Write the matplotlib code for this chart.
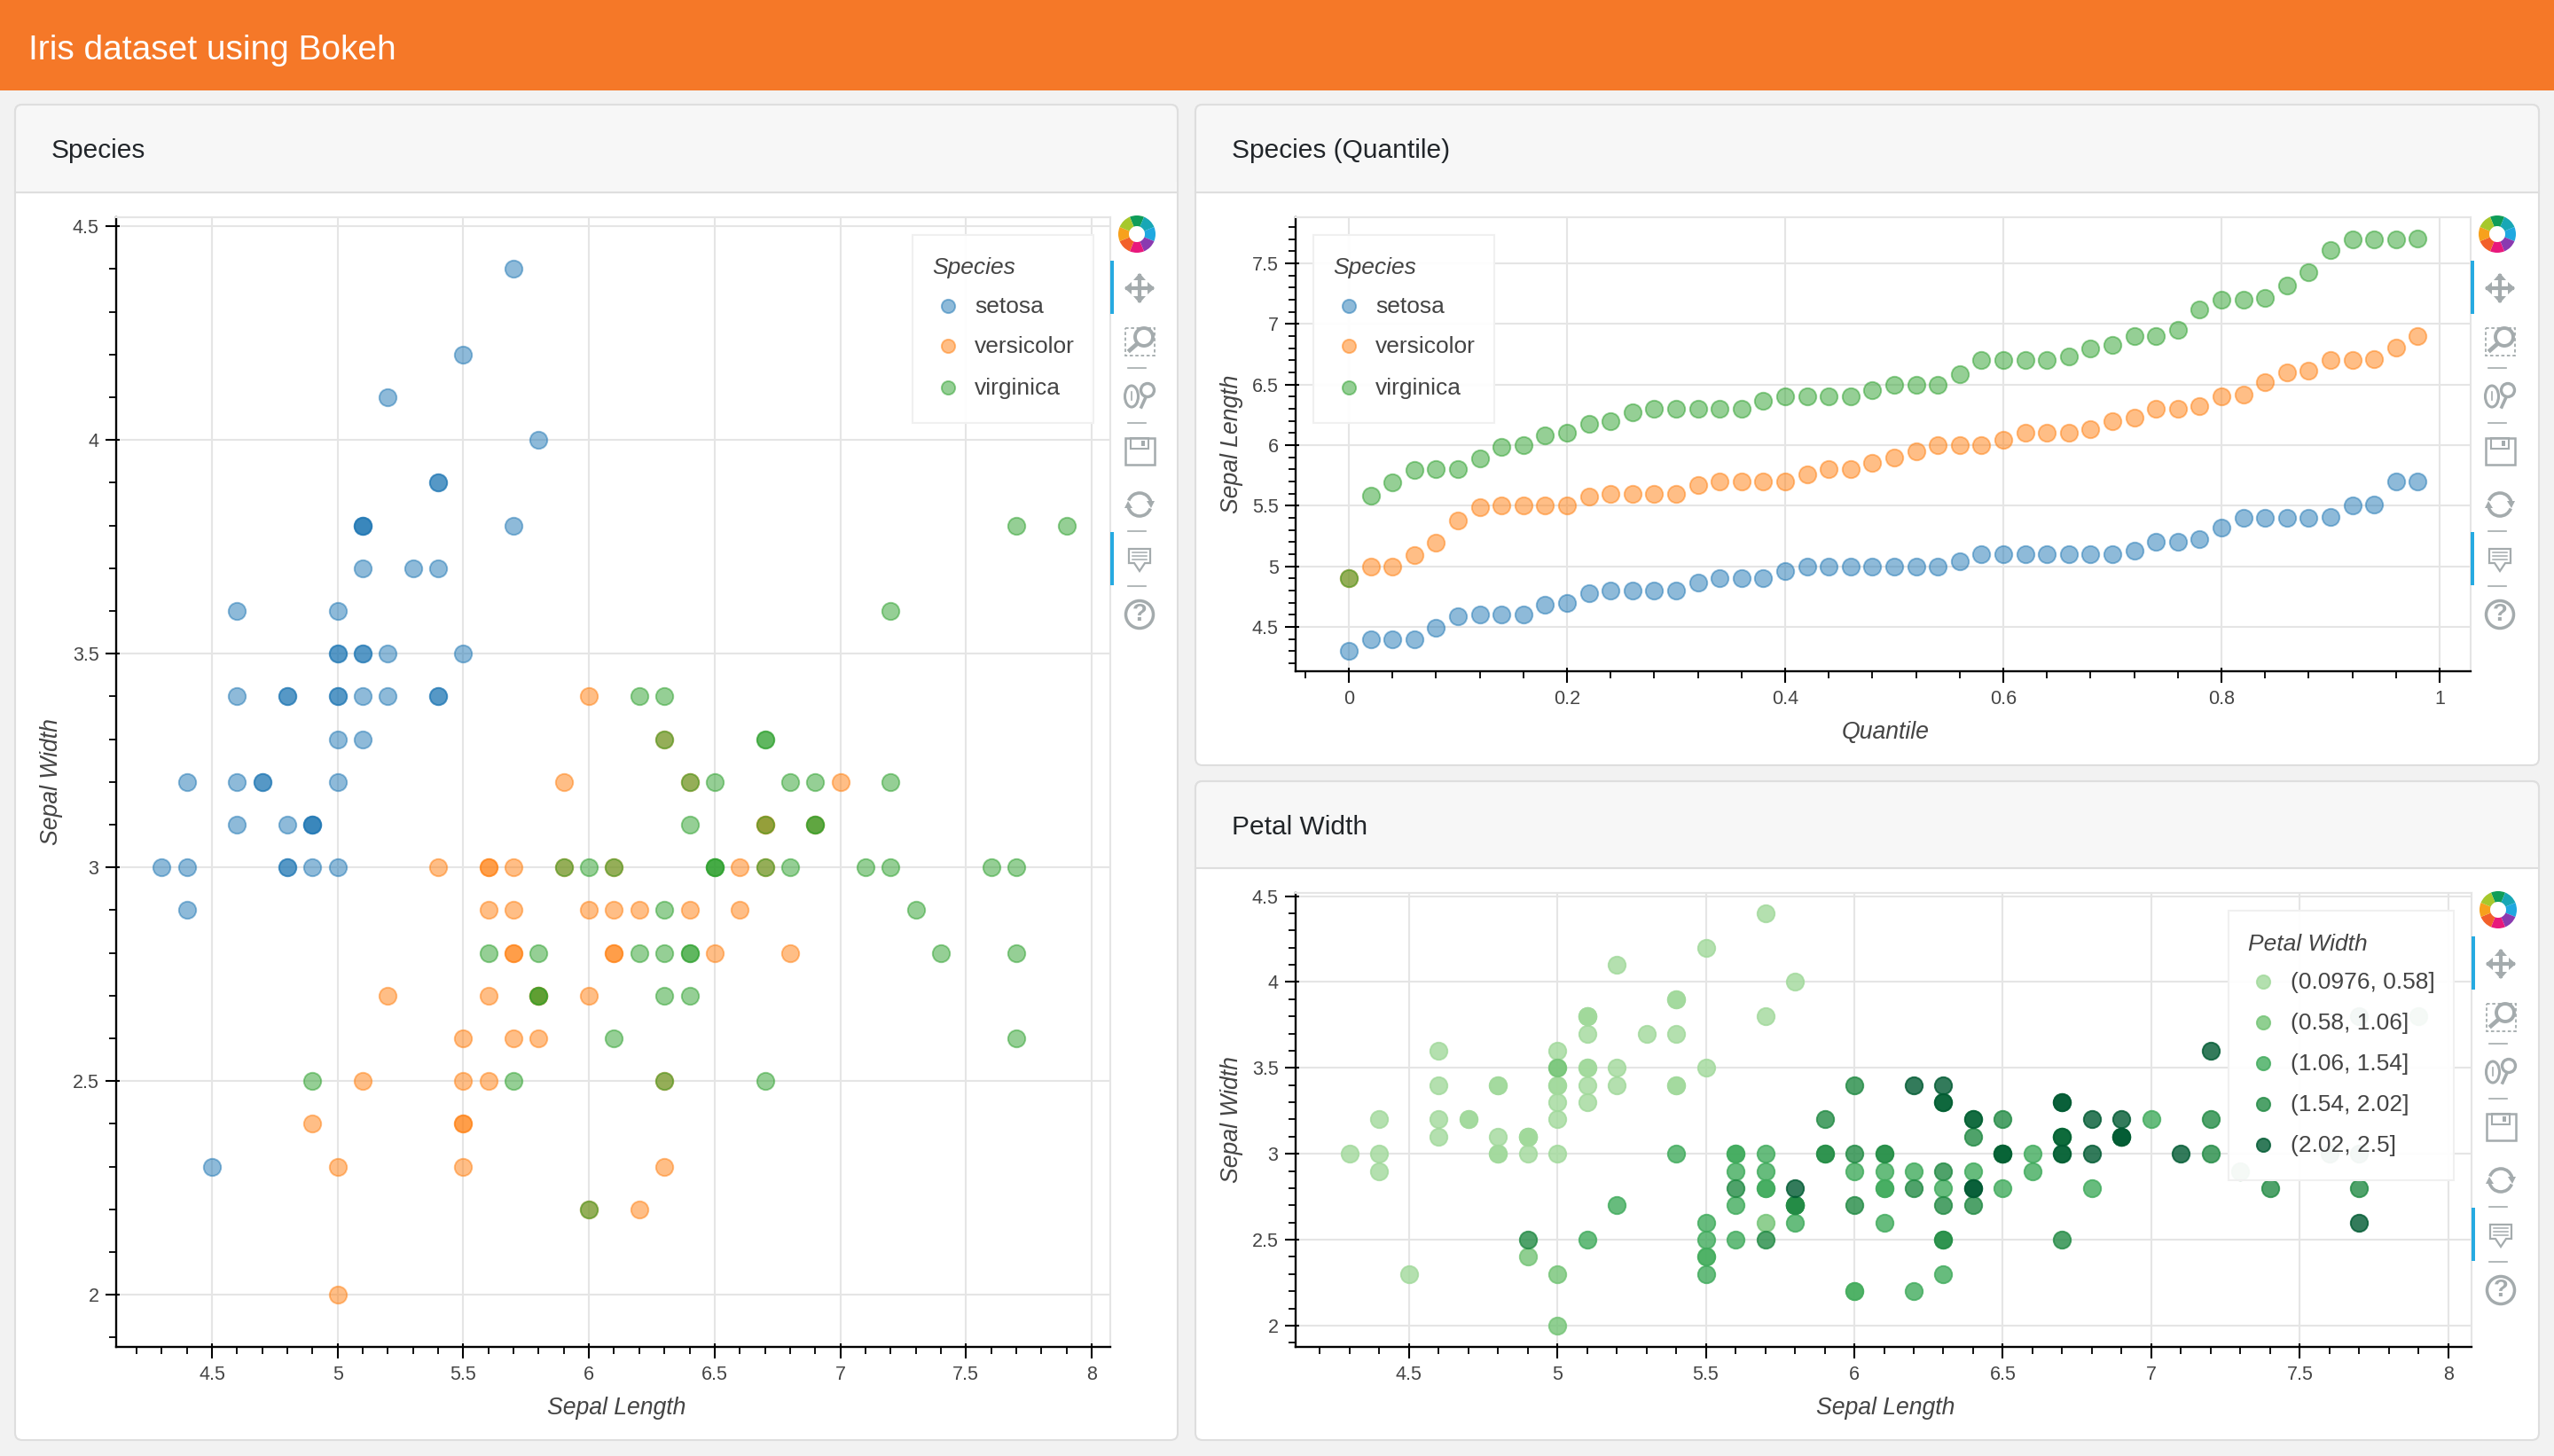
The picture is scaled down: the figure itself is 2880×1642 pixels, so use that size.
import numpy as np
import matplotlib
matplotlib.use('Agg')
import matplotlib.pyplot as plt
from matplotlib.patches import Rectangle, FancyBboxPatch, Wedge, Circle, Ellipse, Polygon, Arc
from matplotlib.ticker import MultipleLocator
from matplotlib.transforms import blended_transform_factory

plt.rcParams['font.family'] = ['Liberation Sans', 'DejaVu Sans']

setosa_length = [5.1,4.9,4.7,4.6,5.0,5.4,4.6,5.0,4.4,4.9,5.4,4.8,4.8,4.3,5.8,5.7,5.4,5.1,5.7,5.1,5.4,5.1,4.6,5.1,4.8,
                 5.0,5.0,5.2,5.2,4.7,4.8,5.4,5.2,5.5,4.9,5.0,5.5,4.9,4.4,5.1,5.0,4.5,4.4,5.0,5.1,4.8,5.1,4.6,5.3,5.0]
setosa_width = [3.5,3.0,3.2,3.1,3.6,3.9,3.4,3.4,2.9,3.1,3.7,3.4,3.0,3.0,4.0,4.4,3.9,3.5,3.8,3.8,3.4,3.7,3.6,3.3,3.4,
                3.0,3.4,3.5,3.4,3.2,3.1,3.4,4.1,4.2,3.1,3.2,3.5,3.1,3.0,3.4,3.5,2.3,3.2,3.5,3.8,3.0,3.8,3.2,3.7,3.3]
setosa_petal = [.2,.2,.2,.2,.2,.4,.3,.2,.2,.1,.2,.2,.1,.1,.2,.4,.4,.3,.3,.3,.2,.4,.2,.5,.2,
                .2,.4,.2,.2,.2,.2,.4,.1,.2,.1,.2,.2,.1,.2,.2,.3,.3,.2,.6,.4,.3,.2,.2,.2,.2]

versicolor_length = [7.0,6.4,6.9,5.5,6.5,5.7,6.3,4.9,6.6,5.2,5.0,5.9,6.0,6.1,5.6,6.7,5.6,5.8,6.2,5.6,5.9,6.1,6.3,6.1,6.4,
                     6.6,6.8,6.7,6.0,5.7,5.5,5.5,5.8,6.0,5.4,6.0,6.7,6.3,5.6,5.5,5.5,6.1,5.8,5.0,5.6,5.7,5.7,6.2,5.1,5.7]
versicolor_width = [3.2,3.2,3.1,2.3,2.8,2.8,3.3,2.4,2.9,2.7,2.0,3.0,2.2,2.9,2.9,3.1,3.0,2.7,2.2,2.5,3.2,2.8,2.5,2.8,2.9,
                    3.0,2.8,3.0,2.9,2.6,2.4,2.4,2.7,2.7,3.0,3.4,3.1,2.3,3.0,2.5,2.6,3.0,2.6,2.3,2.7,3.0,2.9,2.9,2.5,2.8]
versicolor_petal = [1.4,1.5,1.5,1.3,1.5,1.3,1.6,1.0,1.3,1.4,1.0,1.5,1.0,1.4,1.3,1.4,1.5,1.0,1.5,1.1,1.8,1.3,1.5,1.2,1.3,
                    1.4,1.4,1.7,1.5,1.0,1.1,1.0,1.2,1.6,1.5,1.6,1.5,1.3,1.3,1.3,1.2,1.4,1.2,1.0,1.3,1.2,1.3,1.3,1.1,1.3]

virginica_length = [6.3,5.8,7.1,6.3,6.5,7.6,4.9,7.3,6.7,7.2,6.5,6.4,6.8,5.7,5.8,6.4,6.5,7.7,7.7,6.0,6.9,5.6,7.7,6.3,6.7,
                    7.2,6.2,6.1,6.4,7.2,7.4,7.9,6.4,6.3,6.1,7.7,6.3,6.4,6.0,6.9,6.7,6.9,5.8,6.8,6.7,6.7,6.3,6.5,6.2,5.9]
virginica_width = [3.3,2.7,3.0,2.9,3.0,3.0,2.5,2.9,2.5,3.6,3.2,2.7,3.0,2.5,2.8,3.2,3.0,3.8,2.6,2.2,3.2,2.8,2.8,2.7,3.3,
                   3.2,2.8,3.0,2.8,3.0,2.8,3.8,2.8,2.8,2.6,3.0,3.4,3.1,3.0,3.1,3.1,3.1,2.7,3.2,3.3,3.0,2.5,3.0,3.4,3.0]
virginica_petal = [2.5,1.9,2.1,1.8,2.2,2.1,1.7,1.8,1.8,2.5,2.0,1.9,2.1,2.0,2.4,2.3,1.8,2.2,2.3,1.5,2.3,2.0,2.0,1.8,2.1,
                   1.8,1.8,1.8,2.1,1.6,1.9,2.0,2.2,1.5,1.4,2.3,2.4,1.8,1.8,2.1,2.4,2.3,1.9,2.3,2.5,2.3,1.9,2.0,2.3,1.8]

# quantile panel
quantiles = [0,.02,.04,.06,.08,.1,.12,.14,.16,.18,.2,.22,.24,.26,.28,.3,.32,.34,.36,.38,.4,.42,.44,.46,.48,
             .5,.52,.54,.56,.58,.6,.62,.64,.66,.68,.7,.72,.74,.76,.78,.8,.82,.84,.86,.88,.9,.92,.94,.96,.98]
setosa_q = [4.3,4.398,4.4,4.4,4.492,4.59,4.6,4.6,4.6,4.682,4.7,4.778,4.8,4.8,4.8,4.8,4.868,4.9,4.9,4.9,4.96,5.0,5.0,5.0,5.0,
            5.0,5.0,5.0,5.044,5.1,5.1,5.1,5.1,5.1,5.1,5.1,5.128,5.2,5.2,5.222,5.32,5.4,5.4,5.4,5.4,5.41,5.5,5.512,5.7,5.702]
versicolor_q = [4.9,4.998,5.0,5.094,5.192,5.38,5.488,5.5,5.5,5.5,5.5,5.578,5.6,5.6,5.6,5.6,5.668,5.7,5.7,5.7,5.7,5.758,5.8,5.8,5.852,
                5.9,5.948,6.0,6.0,6.0,6.04,6.1,6.1,6.1,6.132,6.2,6.228,6.3,6.3,6.322,6.4,6.418,6.516,6.6,6.612,6.7,6.7,6.706,6.804,6.902]
virginica_q = [4.9,5.586,5.696,5.794,5.8,5.8,5.888,5.986,6.0,6.082,6.1,6.178,6.2,6.274,6.3,6.3,6.3,6.3,6.3,6.362,6.4,6.4,6.4,6.4,6.452,
               6.5,6.5,6.5,6.588,6.7,6.7,6.7,6.7,6.734,6.8,6.83,6.9,6.9,6.948,7.122,7.2,7.2,7.216,7.314,7.424,7.61,7.7,7.7,7.7,7.704]

species_names = ['setosa', 'versicolor', 'virginica']
species_colors = ['#1f77b4', '#ff7f0e', '#2ca02c']
petal_edges = [0.0976, 0.58, 1.06, 1.54, 2.02, 2.5]
petal_labels = ['(0.0976, 0.58]', '(0.58, 1.06]', '(1.06, 1.54]', '(1.54, 2.02]', '(2.02, 2.5]']
petal_colors = ['#a1d99b', '#74c476', '#41ab5d', '#238b45', '#005a32']

W, H = 2880, 1642
TEXT = '#444444'
GRID = '#e5e5e5'
ICON = '#a4abad'

fig = plt.figure(figsize=(W / 100, H / 100), dpi=100, facecolor='#f2f2f2')

def overlay(z):
    a = fig.add_axes([0, 0, 1, 1], zorder=z)
    a.set_xlim(0, W)
    a.set_ylim(H, 0)
    a.axis('off')
    return a

bg = overlay(0)
top = overlay(5)

# page header and cards
bg.add_patch(Rectangle((0, 0), W, 102, fc='#f57828', ec='none'))
bg.text(32, 57, 'Iris dataset using Bokeh', color='white', fontsize=28, va='center')

def card(x0, x1, y0, y1, yh, title):
    bg.add_patch(FancyBboxPatch((x0, y0), x1 - x0, y1 - y0, boxstyle='round,pad=0,rounding_size=8',
                                fc='white', ec='#dedede', lw=1.5))
    bg.add_patch(FancyBboxPatch((x0, y0), x1 - x0, yh - y0, boxstyle='round,pad=0,rounding_size=8',
                                fc='#f7f7f7', ec='#dedede', lw=1.5))
    bg.add_patch(Rectangle((x0 + 1, yh - 12), x1 - x0 - 2, 12, fc='#f7f7f7', ec='none'))
    bg.plot([x0, x1], [yh, yh], color='#dedede', lw=1.5)
    bg.text(x0 + 41, (y0 + yh) / 2 + 3, title, color='#212529', fontsize=21.5, va='center')

card(17, 1328, 118, 1624, 217, 'Species')
card(1348, 2863, 118, 863, 217, 'Species (Quantile)')
card(1348, 2863, 881, 1624, 979, 'Petal Width')

def panel(box, xlim, ylim, xticks, yticks, xminor, yminor, xlabel, ylabel, xlab_x, xlab_y, ylab_x):
    l, t, r, b = box
    ax = fig.add_axes([l / W, 1 - b / H, (r - l) / W, (b - t) / H], zorder=1)
    ax.set_xlim(xlim)
    ax.set_ylim(ylim)
    ax.set_xticks(xticks, [f'{v:g}' for v in xticks])
    ax.set_yticks(yticks, [f'{v:g}' for v in yticks])
    ax.xaxis.set_minor_locator(MultipleLocator(xminor))
    ax.yaxis.set_minor_locator(MultipleLocator(yminor))
    ax.tick_params(which='major', length=9, width=1.5, pad=5, labelsize=15.5, labelcolor=TEXT)
    ax.tick_params(axis='x', which='major', pad=6)
    ax.tick_params(which='minor', length=6, width=1.3)
    ax.grid(True, which='major', color=GRID, lw=1.5)
    ax.set_axisbelow(True)
    for s in ['top', 'right']:
        ax.spines[s].set_color(GRID)
        ax.spines[s].set_linewidth(1.5)
    for s in ['left', 'bottom']:
        ax.spines[s].set_linewidth(1.7)
    # bokeh major ticks also poke a little way inside the frame
    tx = blended_transform_factory(ax.transData, ax.transAxes)
    ty = blended_transform_factory(ax.transAxes, ax.transData)
    ax.vlines(xticks, 0, 4 / (b - t), transform=tx, color='black', lw=1.5, zorder=1.5)
    ax.hlines(yticks, 0, 4 / (r - l), transform=ty, color='black', lw=1.5, zorder=1.5)
    ax.set_xlabel(xlabel, fontsize=19.2, style='italic', color=TEXT, va='center')
    ax.set_ylabel(ylabel, fontsize=19.2, style='italic', color=TEXT, va='center')
    ax.xaxis.set_label_coords((xlab_x - l) / (r - l), -(xlab_y - b) / (b - t))
    ax.yaxis.set_label_coords(-(l - ylab_x) / (r - l), 0.5)
    return ax

def dots(ax, x, y, c):
    ax.scatter(x, y, s=195, color=c, alpha=0.5, lw=1.4, zorder=3, clip_on=False)

ax1 = panel((131, 245, 1252, 1519), (4.119, 8.074), (1.878, 4.521), [4.5, 5, 5.5, 6, 6.5, 7, 7.5, 8],
            [2, 2.5, 3, 3.5, 4, 4.5], 0.1, 0.1, 'Sepal Length', 'Sepal Width', 695, 1588, 58)
dots(ax1, setosa_length, setosa_width, species_colors[0])
dots(ax1, versicolor_length, versicolor_width, species_colors[1])
dots(ax1, virginica_length, virginica_width, species_colors[2])

ax2 = panel((1461, 245, 2786, 757), (-0.0488, 1.0285), (4.134, 7.88), [0, .2, .4, .6, .8, 1],
            [4.5, 5, 5.5, 6, 6.5, 7, 7.5], 0.04, 0.1, 'Quantile', 'Sepal Length', 2126, 826, 1389)
dots(ax2, quantiles, setosa_q, species_colors[0])
dots(ax2, quantiles, versicolor_q, species_colors[1])
dots(ax2, quantiles, virginica_q, species_colors[2])

ax3 = panel((1461, 1007, 2787, 1519), (4.119, 8.078), (1.876, 4.5186), [4.5, 5, 5.5, 6, 6.5, 7, 7.5, 8],
            [2, 2.5, 3, 3.5, 4, 4.5], 0.1, 0.1, 'Sepal Length', 'Sepal Width', 2126, 1588, 1389)
all_length = np.array(setosa_length + versicolor_length + virginica_length)
all_width = np.array(setosa_width + versicolor_width + virginica_width)
all_petal = np.array(setosa_petal + versicolor_petal + virginica_petal)
for i, c in enumerate(petal_colors):
    m = (all_petal > petal_edges[i]) & (all_petal <= petal_edges[i + 1])
    ax3.scatter(all_length[m], all_width[m], s=195, color=c, alpha=0.8, lw=1.4, zorder=3)

def legend_box(x0, x1, y0, y1, title, title_x, marker_x, text_x, rows, labels, colors, alpha):
    top.add_patch(Rectangle((x0, y0), x1 - x0, y1 - y0, fc=(1, 1, 1, 0.95), ec='#f0f0f0', lw=1.5))
    top.text(title_x, y0 + 37.5, title, fontsize=19, style='italic', color=TEXT, va='center')
    for yy, lab, c in zip(rows, labels, colors):
        top.scatter([marker_x], [yy], s=120, color=c, alpha=alpha, lw=1.4)
        top.text(text_x, yy + 1, lab, fontsize=19, color=TEXT, va='center')

legend_box(1029, 1233, 265, 477, 'Species', 1051, 1069, 1099, [345, 390, 437], species_names, species_colors, 0.5)
legend_box(1481, 1685, 265, 477, 'Species', 1503, 1521, 1551, [345, 390, 437], species_names, species_colors, 0.5)
legend_box(2513, 2767, 1027, 1331, 'Petal Width', 2535, 2552, 2583, [1107, 1153, 1199, 1245, 1291],
           petal_labels, petal_colors, 0.8)

LOGO = ['#0f9d58', '#18a7b5', '#1fa8e0', '#8a3ab0', '#e8187c', '#f2602a', '#f7a11c', '#a6c82c']

def toolbar(xr, y):
    lx, ix = xr + 30, xr + 33
    for i, c in enumerate(LOGO):
        a = -90 - 22.5 + i * 45
        top.add_patch(Wedge((lx, y), 21, a, a + 45, width=12, fc=c, ec='none'))
    for off in [30, 336]:
        top.add_patch(Rectangle((xr, y + off), 4, 60, fc='#26aae1', ec='none'))
    for off in [151, 213, 335, 397]:
        top.plot([ix - 13, ix + 7], [y + off, y + off], color=ICON, lw=1.2)
    # pan
    yy = y + 61
    top.plot([ix - 14, ix + 14], [yy, yy], color=ICON, lw=3)
    top.plot([ix, ix], [yy - 14, yy + 14], color=ICON, lw=3)
    for dx, dy in [(1, 0), (-1, 0), (0, 1), (0, -1)]:
        cx, cy = ix + dx * 11, yy + dy * 11
        top.add_patch(Polygon([(cx + dx * 6, cy + dy * 6), (cx + dy * 7 - dx * 2, cy + dx * 7 - dy * 2),
                               (cx - dy * 7 - dx * 2, cy - dx * 7 - dy * 2)], fc=ICON, ec='none'))
    # box zoom
    yy = y + 121
    top.add_patch(Rectangle((ix - 16, yy - 15), 33, 31, fc='none', ec=ICON, lw=1.3, ls=(0, (2, 1.5))))
    top.add_patch(Circle((ix + 5, yy - 5), 10, fc='white', ec=ICON, lw=2.8))
    top.plot([ix - 3, ix - 11], [yy + 3, yy + 10], color=ICON, lw=3.4)
    # wheel zoom
    yy = y + 182
    top.add_patch(Ellipse((ix - 9, yy + 1), 15, 24, fc='none', ec=ICON, lw=2.2))
    top.plot([ix - 9, ix - 9], [yy - 4, yy + 5], color=ICON, lw=1.2)
    top.add_patch(Circle((ix + 9, yy - 6), 7.5, fc='none', ec=ICON, lw=2.4))
    top.plot([ix + 7, ix + 2], [yy + 2, yy + 13], color=ICON, lw=2.6)
    # save
    yy = y + 245
    top.add_patch(Rectangle((ix - 16, yy - 15), 33, 30, fc='none', ec=ICON, lw=1.8))
    top.add_patch(Rectangle((ix - 10, yy - 15), 20, 12, fc='none', ec=ICON, lw=1.5))
    top.add_patch(Rectangle((ix + 2, yy - 12), 4, 6, fc=ICON, ec='none'))
    # reset
    yy = y + 305
    top.add_patch(Arc((ix, yy), 26, 26, theta1=200, theta2=345, color=ICON, lw=2.6))
    top.add_patch(Arc((ix, yy), 26, 26, theta1=20, theta2=165, color=ICON, lw=2.6))
    top.add_patch(Polygon([(ix + 8, yy - 4), (ix + 17, yy - 4), (ix + 13, yy + 4)], fc=ICON, ec='none'))
    top.add_patch(Polygon([(ix - 8, yy + 4), (ix - 17, yy + 4), (ix - 13, yy - 4)], fc=ICON, ec='none'))
    # hover
    yy = y + 366
    top.add_patch(Polygon([(ix - 12, yy - 11), (ix + 12, yy - 11), (ix + 12, yy + 5), (ix + 6, yy + 5), (ix, yy + 14),
                           (ix - 6, yy + 5), (ix - 12, yy + 5)], fc='none', ec=ICON, lw=1.6))
    for d in [-7, -3, 1]:
        top.plot([ix - 8, ix + 8], [yy + d, yy + d], color=ICON, lw=1.1)
    # help
    yy = y + 429
    top.add_patch(Circle((ix, yy), 15.5, fc='none', ec=ICON, lw=2.5))
    top.text(ix, yy + 0.5, '?', color=ICON, fontsize=20, weight='bold', ha='center', va='center')

toolbar(1252, 264)
toolbar(2786, 264)
toolbar(2787, 1026)

fig.savefig('out.png', dpi=100, facecolor=fig.get_facecolor())
